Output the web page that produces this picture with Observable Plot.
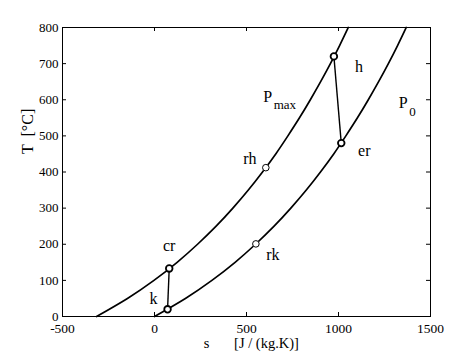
<!DOCTYPE html>
<html><head><meta charset="utf-8">
<script src="https://cdn.jsdelivr.net/npm/d3@7"></script>
<script src="https://cdn.jsdelivr.net/npm/@observablehq/plot@0.6"></script>
<style>
body{margin:0;background:#fff;}
svg text{font-family:"Liberation Serif" !important; white-space:pre;}
</style></head><body><div id="chart"></div>
<script>
// temperature grid [°C] and entropy read along each isobar [J/(kg.K)]
const temps = [0, 50, 100, 150, 200, 250, 300, 350, 400, 450, 500, 550, 600, 650, 700, 750, 800];
const sP0   = [0, 168, 312, 438, 549, 650, 741, 825, 902, 974, 1040, 1103, 1162, 1218, 1271, 1321, 1368];
const sPmax = [-315, -147, -3, 123, 234, 335, 426, 510, 587, 659, 725, 788, 847, 903, 956, 1006, 1053];

// state points
const pointNames = ["k", "cr", "rh", "h", "er", "rk"];
const pointS = [71, 80, 605, 975, 1015, 551];
const pointT = [20, 133, 412, 720, 480, 201];
const boldPoints = ["k", "cr", "h", "er"];
const segments = [["k", "cr"], ["h", "er"]];

// isobar names (base, subscript) and where they sit
const curveBase = ["P", "P"];
const curveSub = ["max", "0"];
const curveS = [615, 1352];
const curveT = [609, 590];

const xTicks = [-500, 0, 500, 1000, 1500];
const yTicks = [0, 100, 200, 300, 400, 500, 600, 700, 800];
const xLabelVar = "s";
const xLabelUnit = "[J / (kg.K)]";
const yLabel = "T  [°C]";

const points = pointNames.map((n, i) => ({name: n, s: pointS[i], T: pointT[i], bold: boldPoints.includes(n)}));
const byName = Object.fromEntries(points.map(p => [p.name, p]));
const p0 = temps.map((T, i) => ({s: sP0[i], T}));
const pmax = temps.map((T, i) => ({s: sPmax[i], T}));
const links = segments.map(([a, b]) => ({a: byName[a], b: byName[b]}));

const W = 474, H = 355, mL = 62, mR = 44, mT = 27, mB = 39;
const fw = W - mL - mR, fh = H - mT - mB, tk = 4;
const ff = "Liberation Serif";

const labelOffsets = {h: [25, 10], er: [23, 8], cr: [0, -23], k: [-14, -10], rh: [-16, -9], rk: [17, 11]};
const fmt = d => String(d);

const marks = [
  Plot.frame({stroke: "#000", strokeWidth: 1}),
  Plot.tickX(xTicks, {x: d => d, insetTop: fh - tk, stroke: "#000"}),
  Plot.tickX(xTicks, {x: d => d, insetBottom: fh - tk, stroke: "#000"}),
  Plot.tickY(yTicks, {y: d => d, insetRight: fw - tk, stroke: "#000"}),
  Plot.tickY(yTicks, {y: d => d, insetLeft: fw - tk, stroke: "#000"}),
  Plot.axisX(xTicks, {tickSize: 0, tickPadding: 7, label: null, fontSize: 13.5, fontFamily: ff, tickFormat: fmt}),
  Plot.axisY(yTicks, {tickSize: 0, tickPadding: 4, label: null, fontSize: 13, fontFamily: ff, tickFormat: fmt}),
  Plot.line(pmax, {x: "s", y: "T", stroke: "#000", strokeWidth: 1.7, curve: "natural"}),
  Plot.line(p0, {x: "s", y: "T", stroke: "#000", strokeWidth: 1.7, curve: "natural"}),
  Plot.link(links, {x1: d => d.a.s, y1: d => d.a.T, x2: d => d.b.s, y2: d => d.b.T, stroke: "#000", strokeWidth: 1.4}),
  Plot.dot(points.filter(p => p.bold), {x: "s", y: "T", r: 3.3, stroke: "#000", fill: "#fff", strokeWidth: 1.8}),
  Plot.dot(points.filter(p => !p.bold), {x: "s", y: "T", r: 3.3, stroke: "#000", fill: "#fff", strokeWidth: 1}),
  ...points.map(p => Plot.text([p], {x: "s", y: "T", text: "name", dx: labelOffsets[p.name][0], dy: labelOffsets[p.name][1], fontSize: 16, fontFamily: ff, fill: "#000"})),
  ...curveBase.map((b, i) => Plot.text([i], {x: () => curveS[i], y: () => curveT[i], text: () => b, fontSize: 16, fontFamily: ff, fill: "#000", textAnchor: "middle"})),
  ...curveSub.map((b, i) => Plot.text([i], {x: () => curveS[i], y: () => curveT[i], text: () => b, fontSize: 13, fontFamily: ff, fill: "#000", textAnchor: "start", dx: 6, dy: 8})),
  Plot.text([xLabelVar], {text: d => d, frameAnchor: "bottom", dx: -40, dy: 31, fontSize: 14.5, fontFamily: ff, fill: "#000"}),
  Plot.text([xLabelUnit], {text: d => d, frameAnchor: "bottom", dx: 20, dy: 31, fontSize: 14.5, fontFamily: ff, fill: "#000"}),
  Plot.text([yLabel], {text: d => d, frameAnchor: "left", rotate: -90, dx: -35, dy: -18, fontSize: 16, fontFamily: ff, fill: "#000"})
];

const chart = Plot.plot({
  width: W, height: H,
  marginLeft: mL, marginRight: mR, marginTop: mT, marginBottom: mB,
  x: {domain: [-500, 1500]},
  y: {domain: [0, 800]},
  style: {color: "#000", background: "#fff", overflow: "visible", fontFamily: ff},
  marks
});
document.getElementById("chart").appendChild(chart);
</script></body></html>
